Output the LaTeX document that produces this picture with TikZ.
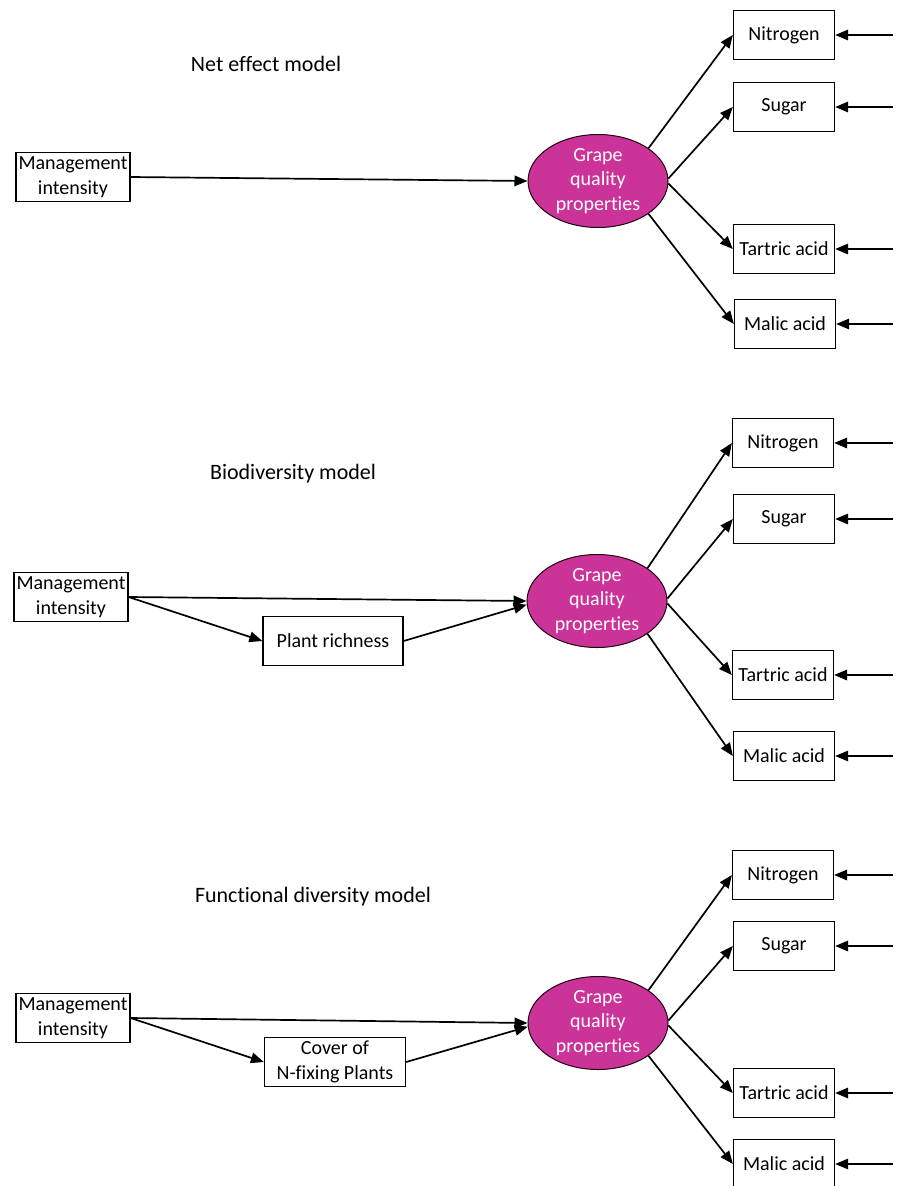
\documentclass[tikz,border=0pt]{standalone}
\usepackage{fontspec}
\setmainfont{Carlito}[Ligatures={NoCommon,NoRequired,NoContextual}]
\usepackage{tikz}
\usetikzlibrary{shapes.geometric}
\usetikzlibrary{arrows.meta}

\begin{document}
\begin{tikzpicture}[x=1pt,y=-1pt,
	varbox/.style={draw, line width=1.3pt, minimum width=101pt, minimum height=49pt, inner sep=2.5pt, align=center, font=\fontsize{20pt}{24.5pt}\selectfont},
	latent/.style={ellipse, draw=custcol_20_0_10, line width=1pt, fill=custcol_cc_33_99, text=white, minimum width=140pt, minimum height=93pt, inner sep=-6pt, align=center, font=\fontsize{20pt}{24.5pt}\selectfont},
	modeltitle/.style={anchor=base, font=\fontsize{22pt}{26pt}\selectfont},
	effarrow/.style={line width=1.7pt, -{Triangle[length=13pt,width=10.5pt]}}]
					\definecolor{custcol_cc_33_99}{RGB}{204, 51, 153}
					\definecolor{custcol_20_0_10}{RGB}{32, 0, 16}
					\useasboundingbox (0,0) rectangle (899,1186);
					% Net effect model
					\node[modeltitle] (title1) at (266,71) {Net effect model};
					\node[varbox] (m1) at (73,177) {Management\\intensity};
					\node[latent] (gq1) at (598,181) {Grape\\quality\\properties};
					\node[varbox] (n1) at (784,35) {Nitrogen};
					\node[varbox] (s1) at (784,107) {Sugar};
					\node[varbox] (t1) at (784,249) {Tartric acid};
					\node[varbox] (ma1) at (785,324) {Malic acid};
					\coordinate (in1n) at ([xshift=58pt]n1.east);
					\coordinate (in1s) at ([xshift=58pt]s1.east);
					\coordinate (in1t) at ([xshift=58pt]t1.east);
					\coordinate (in1m) at ([xshift=57pt]ma1.east);
					\draw[effarrow] (m1.east) -- (gq1.west);
					\draw[effarrow] (gq1.33) -- (n1.west);
					\draw[effarrow] (gq1.2) -- (s1.west);
					\draw[effarrow] (gq1.-2) -- (t1.west);
					\draw[effarrow] (gq1.-33) -- (ma1.west);
					\draw[effarrow] (in1n) -- (n1.east);
					\draw[effarrow] (in1s) -- (s1.east);
					\draw[effarrow] (in1t) -- (t1.east);
					\draw[effarrow] (in1m) -- (ma1.east);
					% Biodiversity model
					\node[modeltitle] (title2) at (293,479) {Biodiversity model};
					\node[varbox] (m2) at (71,597) {Management\\intensity};
					\node[varbox, minimum width=140pt] (pr2) at (333,641) {Plant richness};
					\node[latent] (gq2) at (597,601) {Grape\\quality\\properties};
					\node[varbox] (n2) at (783,443) {Nitrogen};
					\node[varbox] (s2) at (784,519) {Sugar};
					\node[varbox] (t2) at (783,675) {Tartric acid};
					\node[varbox] (ma2) at (784,756) {Malic acid};
					\coordinate (in2n) at ([xshift=59pt]n2.east);
					\coordinate (in2s) at ([xshift=58pt]s2.east);
					\coordinate (in2t) at ([xshift=59pt]t2.east);
					\coordinate (in2m) at ([xshift=58pt]ma2.east);
					\draw[effarrow] (m2.east) -- (gq2.west);
					\draw[effarrow] (m2.east) -- (pr2.west);
					\draw[effarrow] (pr2.east) -- (gq2.183);
					\draw[effarrow] (gq2.33) -- (n2.west);
					\draw[effarrow] (gq2.2) -- (s2.west);
					\draw[effarrow] (gq2.-2) -- (t2.west);
					\draw[effarrow] (gq2.-33) -- (ma2.west);
					\draw[effarrow] (in2n) -- (n2.east);
					\draw[effarrow] (in2s) -- (s2.east);
					\draw[effarrow] (in2t) -- (t2.east);
					\draw[effarrow] (in2m) -- (ma2.east);
					% Functional diversity model
					\node[modeltitle] (title3) at (313,902) {Functional diversity model};
					\node[varbox] (m3) at (73,1018) {Management\\intensity};
					\node[varbox, minimum width=141pt, inner sep=0.5pt] (cv3) at (335,1062) {Cover of\\N-fixing Plants};
					\node[latent] (gq3) at (598,1023) {Grape\\quality\\properties};
					\node[varbox] (n3) at (783,875) {Nitrogen};
					\node[varbox] (s3) at (784,946) {Sugar};
					\node[varbox] (t3) at (784,1093) {Tartric acid};
					\node[varbox] (ma3) at (784,1164) {Malic acid};
					\coordinate (in3n) at ([xshift=59pt]n3.east);
					\coordinate (in3s) at ([xshift=58pt]s3.east);
					\coordinate (in3t) at ([xshift=58pt]t3.east);
					\coordinate (in3m) at ([xshift=58pt]ma3.east);
					\draw[effarrow] (m3.east) -- (gq3.west);
					\draw[effarrow] (m3.east) -- (cv3.west);
					\draw[effarrow] (cv3.east) -- (gq3.183);
					\draw[effarrow] (gq3.33) -- (n3.west);
					\draw[effarrow] (gq3.2) -- (s3.west);
					\draw[effarrow] (gq3.-2) -- (t3.west);
					\draw[effarrow] (gq3.-33) -- (ma3.west);
					\draw[effarrow] (in3n) -- (n3.east);
					\draw[effarrow] (in3s) -- (s3.east);
					\draw[effarrow] (in3t) -- (t3.east);
					\draw[effarrow] (in3m) -- (ma3.east);
				\end{tikzpicture}
\end{document}
